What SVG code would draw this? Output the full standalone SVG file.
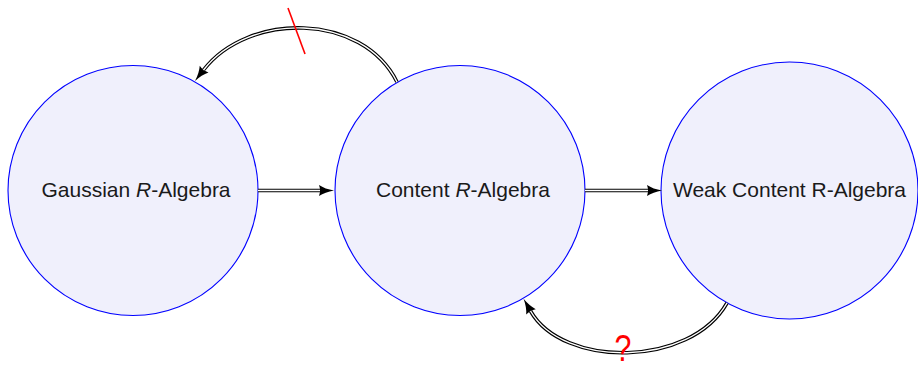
<svg xmlns="http://www.w3.org/2000/svg" width="918" height="369" viewBox="0 0 918 369">
<style>
.node circle{fill:#f0f0fc;stroke:#0000ff;stroke-width:1.1}
.node text{font-family:"Liberation Sans",Arial,sans-serif;font-size:21px;fill:#1a1a1a;text-anchor:middle}
.outer{fill:none;stroke:#000;stroke-width:3.6}
.inner{fill:none;stroke:#fff;stroke-width:1.4}
.red{stroke:#ff0000;stroke-width:1.6;fill:none}
</style>
<defs>
<marker id="ah" markerUnits="userSpaceOnUse" markerWidth="15" markerHeight="13" refX="0" refY="6" orient="auto" overflow="visible">
<path d="M-1,0.5 Q5,4.5 14,6 Q5,7.5 -1,11.5 Q1,6 -1,0.5 Z" fill="#000"/>
</marker>
</defs>
<rect width="918" height="369" fill="#fff"/>
<g id="n1" class="node">
<circle cx="133" cy="190.5" r="125"/>
<text x="136" y="197">Gaussian <tspan font-style="italic">R</tspan>-Algebra</text>
</g>
<g id="n2" class="node">
<circle cx="460" cy="190.5" r="125"/>
<text x="463" y="197">Content <tspan font-style="italic">R</tspan>-Algebra</text>
</g>
<g id="n3" class="node">
<circle cx="789.5" cy="190.5" r="128.5"/>
<text x="789.5" y="197">Weak Content R-Algebra</text>
</g>
<g id="edges">
<path class="outer" d="M258,190.5 H320" marker-end="url(#ah)"/>
<path class="inner" d="M258,190.5 H320"/>
<path class="outer" d="M585,190.5 H648" marker-end="url(#ah)"/>
<path class="inner" d="M585,190.5 H648"/>
<path class="outer" d="M397,82 C362,12 248,12 203.5,70" marker-end="url(#ah)"/>
<path class="inner" d="M397,82 C362,12 248,12 203.5,70"/>
<line class="red" x1="288" y1="8" x2="305" y2="54"/>
<path class="outer" d="M727,303 C690,368 563,368 530.5,311" marker-end="url(#ah)"/>
<path class="inner" d="M727,303 C690,368 563,368 530.5,311"/>
<text x="0" y="0" transform="translate(623,361) scale(0.82,1)" font-family="Liberation Sans,Arial,sans-serif" font-size="37" fill="#ff0000" text-anchor="middle">?</text>
</g>
</svg>
